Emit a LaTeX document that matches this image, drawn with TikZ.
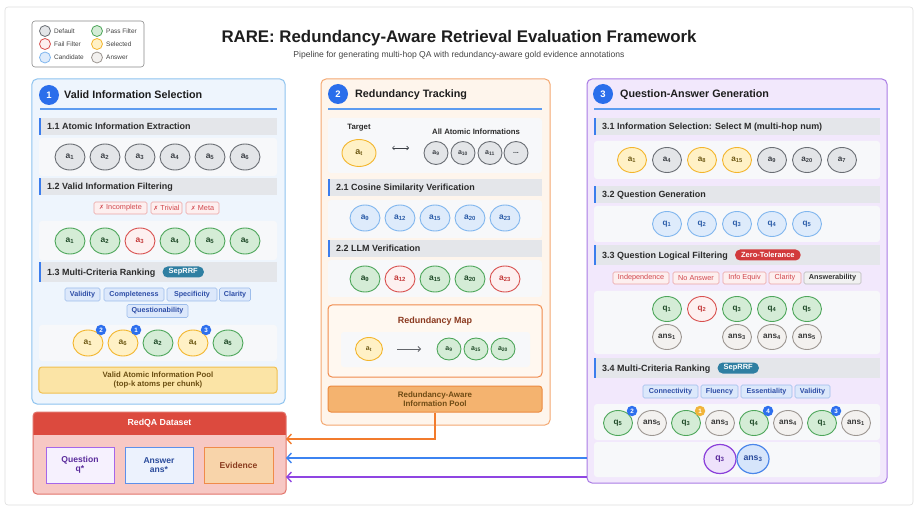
\documentclass[tikz,border=0pt]{standalone}
\usepackage{fontspec}
\setmainfont{Liberation Sans}
\newfontfamily\dejavu{DejaVu Sans}
\usetikzlibrary{shapes.geometric,arrows.meta,positioning,calc}
\newcommand\fs[1]{\fontsize{#1}{#1}\selectfont}
\newcommand\sbs[1]{\textsubscript{#1}}
\definecolor{frameC}{HTML}{DDDDDD}
\definecolor{p1F}{HTML}{EEF5FD}\definecolor{p1B}{HTML}{8EC3EF}
\definecolor{p2F}{HTML}{FEF5EC}\definecolor{p2B}{HTML}{F4A871}
\definecolor{p3F}{HTML}{F2E8FC}\definecolor{p3B}{HTML}{A97BE4}
\definecolor{rowF}{HTML}{F7F8FA}
\definecolor{subF}{HTML}{E4E6EA}
\definecolor{accC}{HTML}{3B7DED}
\definecolor{hlineC}{HTML}{5D9CF0}
\definecolor{numB}{HTML}{2A6EEB}
\definecolor{titleT}{HTML}{1E1E1E}
\definecolor{subT}{HTML}{2B2B2B}
\definecolor{gF}{HTML}{E3E5E8}\definecolor{gB}{HTML}{6A6E74}\definecolor{gT}{HTML}{3C4046}
\definecolor{grF}{HTML}{D4ECD6}\definecolor{grB}{HTML}{4DA65A}\definecolor{grT}{HTML}{1F4A28}
\definecolor{rF}{HTML}{FDF0F0}\definecolor{rB}{HTML}{D8504E}\definecolor{rT}{HTML}{C43A3A}
\definecolor{yF}{HTML}{FFF1C6}\definecolor{yB}{HTML}{F3B52C}\definecolor{yT}{HTML}{6E5A16}
\definecolor{bF}{HTML}{DEEBFB}\definecolor{bB}{HTML}{80B6EE}\definecolor{bT}{HTML}{2B5CA8}
\definecolor{aF}{HTML}{F3F1EF}\definecolor{aB}{HTML}{9C9691}\definecolor{aT}{HTML}{3A3A3A}
\definecolor{badgeB}{HTML}{2D6FEE}\definecolor{badgeO}{HTML}{F0B43A}
\definecolor{trF}{HTML}{FDEFEF}\definecolor{trB}{HTML}{EBA3A3}\definecolor{trT}{HTML}{D1454B}
\definecolor{tbF}{HTML}{DCE8FB}\definecolor{tbB}{HTML}{9DBDEB}\definecolor{tbT}{HTML}{2D4DA6}
\definecolor{tgF}{HTML}{F1F1F1}\definecolor{tgB}{HTML}{B8B8B8}\definecolor{tgT}{HTML}{333333}
\definecolor{pillT}{HTML}{2F7FA2}\definecolor{pillR}{HTML}{D23A3C}
\definecolor{pool1F}{HTML}{FBE4A6}\definecolor{pool1B}{HTML}{F1C04F}\definecolor{pool1T}{HTML}{6B4E12}
\definecolor{pool2F}{HTML}{F4B36F}\definecolor{pool2B}{HTML}{EC8B40}\definecolor{pool2T}{HTML}{6F4B14}
\definecolor{mapF}{HTML}{FFF8F0}\definecolor{mapB}{HTML}{F08B4C}\definecolor{mapT}{HTML}{8B3A20}
\definecolor{rqH}{HTML}{DC4A3E}\definecolor{rqF}{HTML}{F7C8C4}\definecolor{rqB}{HTML}{E2736A}
\definecolor{qbF}{HTML}{F6F1FE}\definecolor{qbB}{HTML}{A566EA}\definecolor{qbT}{HTML}{5A2B9C}
\definecolor{abF}{HTML}{ECF2FD}\definecolor{abB}{HTML}{5D90EA}\definecolor{abT}{HTML}{2B4C9C}
\definecolor{ebF}{HTML}{F8D4AA}\definecolor{ebB}{HTML}{F08B4A}\definecolor{ebT}{HTML}{8A3B1E}
\definecolor{arO}{HTML}{F27B2C}\definecolor{arB}{HTML}{3C83F1}\definecolor{arP}{HTML}{8F45E2}
\definecolor{fpF}{HTML}{EEE2FB}\definecolor{fpB}{HTML}{8B40DA}\definecolor{fpT}{HTML}{5A2B9C}
\definecolor{faF}{HTML}{D6E5FB}\definecolor{faB}{HTML}{4C87EA}\definecolor{faT}{HTML}{2B4C9C}
\definecolor{legB}{HTML}{8A8A8A}\definecolor{legT}{HTML}{444444}
\newcommand\subhdr[6]{%
  \fill[subF] (#1,#3) rectangle (#2,#4);
  \fill[accC] (#1,#3) rectangle (#1+2.2,#4);
  \node[subtxt] (#5) at (#1+8,{(#3+#4)/2}) {#6};}
\newcommand\rowbox[4]{\fill[rowF, rounded corners=3bp] (#1,#3) rectangle (#2,#4);}
\begin{document}
\begin{tikzpicture}[x=1bp,y=-1bp,
  panelbox/.style={rectangle, rounded corners=5bp, line width=1bp, inner sep=0pt, outer sep=0pt},
  atom/.style={ellipse, line width=0.9bp, inner sep=0pt, minimum width=30bp, minimum height=26bp, font=\fs{8.5}\bfseries},
  atgray/.style={atom, fill=gF, draw=gB, text=gT},
  atgreen/.style={atom, fill=grF, draw=grB, text=grT},
  atred/.style={atom, fill=rF, draw=rB, text=rT},
  atyel/.style={atom, fill=yF, draw=yB, text=yT},
  atblue/.style={atom, fill=bF, draw=bB, text=bT},
  atans/.style={atom, fill=aF, draw=aB, text=aT},
  atsmall/.style={minimum width=24bp, minimum height=22bp, font=\fs{7}\bfseries},
  atq/.style={minimum width=29bp, minimum height=25bp, font=\fs{8.2}\bfseries},
  badge/.style={circle, inner sep=0pt, minimum size=10.5bp, fill=badgeB, text=white, font=\fs{6.3}\bfseries},
  numc/.style={circle, fill=numB, text=white, minimum size=20bp, inner sep=0pt, font=\fs{9.5}\bfseries},
  ptitle/.style={anchor=west, font=\fs{10.8}\bfseries, text=titleT, inner sep=0pt, text height=7.8bp, text depth=0pt},
  hline/.style={draw=hlineC, line width=1.3bp},
  subtxt/.style={anchor=west, font=\fs{9}\bfseries, text=subT, inner sep=0pt, text height=6.5bp, text depth=0pt},
  tagbox/.style={rectangle, rounded corners=1.5bp, line width=0.6bp, inner sep=0pt, minimum height=12bp, font=\fs{7.3}},
  tagred/.style={tagbox, fill=trF, draw=trB, text=trT},
  tagblue/.style={tagbox, fill=tbF, draw=tbB, text=tbT, font=\fs{7.2}\bfseries, minimum height=13bp},
  taggray/.style={tagbox, fill=tgF, draw=tgB, text=tgT, font=\fs{7.3}\bfseries},
  pill/.style={rectangle, rounded corners=5bp, inner xsep=6bp, inner ysep=0pt, minimum height=11bp, text=white, font=\fs{7.5}\bfseries},
  arr/.style={line width=1.4bp, -{Straight Barb[length=4.5bp,width=10bp]}},
  legc/.style={circle, minimum size=11bp, inner sep=0pt, line width=0.8bp},
  legt/.style={anchor=west, inner sep=0pt, font=\fs{6.5}, text=legT},
  bigtxt/.style={align=center, font=\fs{8}\bfseries, inner sep=0pt}
]
\useasboundingbox (0,0) rectangle (919,512);
\fill[white] (0,0) rectangle (919,512);
\draw[frameC, line width=0.6bp, rounded corners=3bp] (5,7) rectangle (913,505);

% legend
\draw[legB, line width=0.6bp, rounded corners=3bp, fill=white] (32,21) rectangle (144,67);
\node[legc, fill=gF, draw=gB] (l1) at (45,31) {};
\node[legt] at (54,31) {Default};
\node[legc, fill=rF, draw=rB] (l2) at (45,44) {};
\node[legt] at (54,44) {Fail Filter};
\node[legc, fill=bF, draw=bB] (l3) at (45,57.5) {};
\node[legt] at (54,57.5) {Candidate};
\node[legc, fill=grF, draw=grB] (l4) at (97,31) {};
\node[legt] at (106,31) {Pass Filter};
\node[legc, fill=yF, draw=yB] (l5) at (97,44) {};
\node[legt] at (106,44) {Selected};
\node[legc, fill=aF, draw=aB] (l6) at (97,57.5) {};
\node[legt] at (106,57.5) {Answer};

% title
\node[font=\fs{16.9}\bfseries, text=titleT, inner sep=0pt] (title) at (459,38) {RARE: Redundancy-Aware Retrieval Evaluation Framework};
\node[font=\fs{8.6}, text=legT, inner sep=0pt] (subtitle) at (459,55) {Pipeline for generating multi-hop QA with redundancy-aware gold evidence annotations};

% ================= PANEL 1
\node[panelbox, fill=p1F, draw=p1B, minimum width=253bp, minimum height=325bp] (panel1) at (158.5,241.5) {};
\node[numc] (n1) at (49,95) {1};
\node[ptitle] (t1) at (64,95) {Valid Information Selection};
\draw[hline] (40,109) -- (277,109);
\subhdr{39}{277}{118}{135}{s11}{1.1 Atomic Information Extraction}
\rowbox{39}{277}{138}{176}
\foreach \i/\x in {1/70,2/105,3/140,4/175,5/210,6/245}
  \node[atgray] (e\i) at (\x,157) {a\sbs{\i}};
\subhdr{39}{277}{178}{195}{s12}{1.2 Valid Information Filtering}
\node[tagred, minimum width=53bp] (f1) at (120.5,208) {{\dejavu\fs{6}✗} Incomplete};
\node[tagred, minimum width=31bp] (f2) at (166.5,208) {{\dejavu\fs{6}✗} Trivial};
\node[tagred, minimum width=33bp] (f3) at (202.5,208) {{\dejavu\fs{6}✗} Meta};
\rowbox{39}{277}{221}{260}
\node[atgreen] (v1) at (70,241) {a\sbs{1}};
\node[atgreen] (v2) at (105,241) {a\sbs{2}};
\node[atred]   (v3) at (140,241) {a\sbs{3}};
\node[atgreen] (v4) at (175,241) {a\sbs{4}};
\node[atgreen] (v5) at (210,241) {a\sbs{5}};
\node[atgreen] (v6) at (245,241) {a\sbs{6}};
\subhdr{39}{277}{262}{282}{s13}{1.3 Multi-Criteria Ranking}
\node[pill, fill=pillT, right=7bp of s13] (pill1) {SepRRF};
\node[tagblue, minimum width=35bp] (c1) at (82.5,294.5) {Validity};
\node[tagblue, minimum width=60bp] (c2) at (134,294.5) {Completeness};
\node[tagblue, minimum width=50bp] (c3) at (192,294.5) {Specificity};
\node[tagblue, minimum width=31bp] (c4) at (235,294.5) {Clarity};
\node[tagblue, minimum width=61bp] (c5) at (157.5,311) {Questionability};
\rowbox{39}{277}{325}{361}
\node[atyel]   (r1) at (88,343) {a\sbs{1}};
\node[atyel]   (r2) at (123,343) {a\sbs{6}};
\node[atgreen] (r3) at (158,343) {a\sbs{2}};
\node[atyel]   (r4) at (193,343) {a\sbs{4}};
\node[atgreen] (r5) at (228,343) {a\sbs{5}};
\node[badge] (b1) at ([shift={(13,-13)}]r1.center) {2};
\node[badge] (b2) at ([shift={(13,-13)}]r2.center) {1};
\node[badge] (b3) at ([shift={(13,-13)}]r4.center) {3};
\node[rectangle, rounded corners=3bp, fill=pool1F, draw=pool1B, line width=1bp, minimum width=238bp, minimum height=26bp, bigtxt, text=pool1T, font=\fs{7.8}\bfseries] (pool1) at (158,380) {Valid Atomic Information Pool\\[1pt](top-k atoms per chunk)};

% ================= PANEL 2
\node[panelbox, fill=p2F, draw=p2B, minimum width=229bp, minimum height=346bp] (panel2) at (435.5,252) {};
\node[numc] (n2) at (338,94) {2};
\node[ptitle] (t2) at (355,94) {Redundancy Tracking};
\draw[hline] (328,109) -- (542,109);
\rowbox{328}{542}{118}{173}
\node[font=\fs{7.8}\bfseries, text=subT, inner sep=0pt] (tgtlab) at (359,128) {Target};
\node[atyel, minimum width=34bp, minimum height=27bp, font=\fs{9}\bfseries] (tgt) at (359,153) {a\sbs{t}};
\coordinate (dl) at (392,148);
\coordinate (dr) at (409,148);
\draw[gT, line width=0.7bp, {Straight Barb[length=2bp,width=4bp]}-{Straight Barb[length=2bp,width=4bp]}] (dl) -- (dr);
\node[font=\fs{7.8}\bfseries, text=subT, inner sep=0pt] (alllab) at (476,132) {All Atomic Informations};
\node[atgray, atsmall, minimum height=23bp] (g1) at (436,153) {a\sbs{9}};
\node[atgray, atsmall, minimum height=23bp] (g2) at (463,153) {a\sbs{10}};
\node[atgray, atsmall, minimum height=23bp] (g3) at (490,153) {a\sbs{11}};
\node[atgray, atsmall, minimum height=23bp] (g4) at (516,153) {...};
\subhdr{328}{542}{179}{196}{s21}{2.1 Cosine Similarity Verification}
\rowbox{328}{542}{200}{238}
\foreach \n/\x [count=\k] in {9/365,12/400,15/435,20/470,23/505}
  \node[atblue] (cs\k) at (\x,218) {a\sbs{\n}};
\subhdr{328}{542}{240}{257}{s22}{2.2 LLM Verification}
\rowbox{328}{542}{260}{297}
\node[atgreen] (lv1) at (365,279) {a\sbs{9}};
\node[atred]   (lv2) at (400,279) {a\sbs{12}};
\node[atgreen] (lv3) at (435,279) {a\sbs{15}};
\node[atgreen] (lv4) at (470,279) {a\sbs{20}};
\node[atred]   (lv5) at (505,279) {a\sbs{23}};
\node[rectangle, rounded corners=4bp, fill=mapF, draw=mapB, line width=1bp, minimum width=214bp, minimum height=72bp] (rmap) at (435,341) {};
\node[font=\fs{9}\bfseries, text=mapT, inner sep=0pt] (rmaplab) at (435,321) {Redundancy Map};
\rowbox{341}{530}{332}{367}
\node[atyel, minimum width=27bp, minimum height=23bp, font=\fs{7}\bfseries] (mt) at (369,349) {a\sbs{t}};
\coordinate (ml) at (397,349);
\coordinate (mr) at (421,349);
\draw[gT!80, line width=0.8bp, -{Straight Barb[length=2.5bp,width=5bp]}] (ml) -- (mr);
\node[atgreen, atsmall] (m1) at (449,349) {a\sbs{9}};
\node[atgreen, atsmall] (m2) at (476,349) {a\sbs{15}};
\node[atgreen, atsmall] (m3) at (503,349) {a\sbs{20}};
\node[rectangle, rounded corners=3bp, fill=pool2F, draw=pool2B, line width=1bp, minimum width=214bp, minimum height=26bp, bigtxt, text=pool2T] (pool2) at (435,399) {Redundancy-Aware\\[1pt]Information Pool};

% ================= PANEL 3
\node[panelbox, fill=p3F, draw=p3B, minimum width=300bp, minimum height=404bp] (panel3) at (737,281) {};
\node[numc] (n3) at (603,94) {3};
\node[ptitle] (t3) at (620,94) {Question-Answer Generation};
\draw[hline] (594,109) -- (880,109);
\subhdr{594}{880}{118}{135}{s31}{3.1 Information Selection: Select M (multi-hop num)}
\rowbox{594}{880}{141}{179}
\node[atyel, atq]  (h1) at (632,160) {a\sbs{1}};
\node[atgray, atq] (h2) at (667,160) {a\sbs{4}};
\node[atyel, atq]  (h3) at (702,160) {a\sbs{8}};
\node[atyel, atq]  (h4) at (737,160) {a\sbs{15}};
\node[atgray, atq] (h5) at (772,160) {a\sbs{9}};
\node[atgray, atq] (h6) at (807,160) {a\sbs{20}};
\node[atgray, atq] (h7) at (842,160) {a\sbs{7}};
\subhdr{594}{880}{186}{203}{s32}{3.2 Question Generation}
\rowbox{594}{880}{206}{242}
\foreach \i/\x in {1/667,2/702,3/737,4/772,5/807}
  \node[atblue, atq] (qg\i) at (\x,224) {q\sbs{\i}};
\subhdr{594}{880}{245}{265}{s33}{3.3 Question Logical Filtering}
\node[pill, fill=pillR, right=7bp of s33] (pill2) {Zero-Tolerance};
\node[tagred, minimum width=56bp] (lf1) at (641,278) {Independence};
\node[tagred, minimum width=46bp] (lf2) at (696,278) {No Answer};
\node[tagred, minimum width=43bp] (lf3) at (744.5,278) {Info Equiv};
\node[tagred, minimum width=32bp] (lf4) at (785,278) {Clarity};
\node[taggray, minimum width=57bp] (lf5) at (832.5,278) {Answerability};
\rowbox{594}{880}{291}{354}
\node[atgreen, atq] (fq1) at (667,309) {q\sbs{1}};
\node[atred, atq]   (fq2) at (702,309) {q\sbs{2}};
\node[atgreen, atq] (fq3) at (737,309) {q\sbs{3}};
\node[atgreen, atq] (fq4) at (772,309) {q\sbs{4}};
\node[atgreen, atq] (fq5) at (807,309) {q\sbs{5}};
\node[atans, atq] (fa1) at (667,337) {ans\sbs{1}};
\node[atans, atq] (fa3) at (737,337) {ans\sbs{3}};
\node[atans, atq] (fa4) at (772,337) {ans\sbs{4}};
\node[atans, atq] (fa5) at (807,337) {ans\sbs{5}};
\subhdr{594}{880}{358}{378}{s34}{3.4 Multi-Criteria Ranking}
\node[pill, fill=pillT, right=7bp of s34] (pill3) {SepRRF};
\node[tagblue, minimum width=55bp] (k1) at (670.5,391.5) {Connectivity};
\node[tagblue, minimum width=37bp] (k2) at (719.5,391.5) {Fluency};
\node[tagblue, minimum width=51bp] (k3) at (766.5,391.5) {Essentiality};
\node[tagblue, minimum width=35bp] (k4) at (812.5,391.5) {Validity};
\rowbox{594}{880}{404}{440}
\node[atgreen, atq] (rq5) at (618,423) {q\sbs{5}};
\node[atans, atq]   (ra5) at (652,423) {ans\sbs{5}};
\node[atgreen, atq] (rq3) at (686,423) {q\sbs{3}};
\node[atans, atq]   (ra3) at (720,423) {ans\sbs{3}};
\node[atgreen, atq] (rq4) at (754,423) {q\sbs{4}};
\node[atans, atq]   (ra4) at (788,423) {ans\sbs{4}};
\node[atgreen, atq] (rq1) at (822,423) {q\sbs{1}};
\node[atans, atq]   (ra1) at (856,423) {ans\sbs{1}};
\node[badge] (bb1) at ([shift={(14,-12)}]rq5.center) {2};
\node[badge, fill=badgeO] (bb2) at ([shift={(14,-12)}]rq3.center) {1};
\node[badge] (bb3) at ([shift={(14,-12)}]rq4.center) {4};
\node[badge] (bb4) at ([shift={(14,-12)}]rq1.center) {3};
\rowbox{594}{880}{442}{477}
\node[atom, fill=fpF, draw=fpB, text=fpT, line width=1.2bp, minimum width=32bp, minimum height=29bp, font=\fs{8.8}\bfseries] (finq) at (720,459) {q\sbs{3}};
\node[atom, fill=faF, draw=faB, text=faT, line width=1.2bp, minimum width=32bp, minimum height=29bp, font=\fs{8.8}\bfseries] (fina) at (753,459) {ans\sbs{3}};

% ================= RedQA
\node[rectangle, rounded corners=4bp, fill=rqF, minimum width=253bp, minimum height=82bp, inner sep=0pt, outer sep=0pt] (redqa) at (159.5,453) {};
\begin{scope}
  \clip[rounded corners=4bp] (33,412) rectangle (286,494);
  \fill[rqH] (33,412) rectangle (286,435);
\end{scope}
\draw[rqB, line width=1bp, rounded corners=4bp] (33,412) rectangle (286,494);
\node[font=\fs{8.8}\bfseries, text=white, inner sep=0pt] (rqlab) at (159.5,423.5) {RedQA Dataset};
\node[rectangle, fill=qbF, draw=qbB, line width=1bp, minimum width=68bp, minimum height=36bp, bigtxt, font=\fs{8.6}\bfseries, text=qbT] (qbox) at (80,465) {Question\\[1pt]q*};
\node[rectangle, fill=abF, draw=abB, line width=1bp, minimum width=68bp, minimum height=36bp, bigtxt, font=\fs{8.6}\bfseries, text=abT] (abox) at (159,465) {Answer\\[1pt]ans*};
\node[rectangle, fill=ebF, draw=ebB, line width=1bp, minimum width=69bp, minimum height=36bp, bigtxt, font=\fs{8.6}\bfseries, text=ebT] (ebox) at (238.5,465) {Evidence};

% ================= connectors
\draw[arr, arO] (pool2.south) |- (redqa.east |- 0,439);
\draw[arr, arB] (panel3.west |- 0,458) -- (redqa.east |- 0,458);
\draw[arr, arP] (panel3.west |- 0,477) -- (redqa.east |- 0,477);
\end{tikzpicture}
\end{document}
